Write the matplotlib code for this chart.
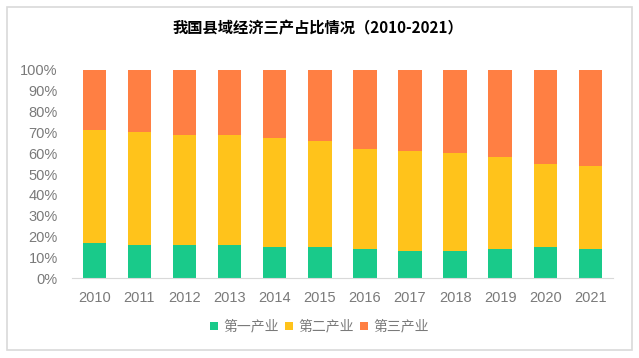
import matplotlib
matplotlib.use("Agg")
import matplotlib.pyplot as plt
from matplotlib.patches import Patch, Rectangle

years = ["2010", "2011", "2012", "2013", "2014", "2015",
         "2016", "2017", "2018", "2019", "2020", "2021"]
primary = [17.0, 16.0, 16.0, 16.0, 15.0, 15.0, 14.1, 13.1, 13.1, 14.1, 15.0, 14.1]
secondary = [54.2, 54.2, 52.8, 52.8, 52.4, 50.9, 48.0, 48.0, 47.1, 44.1, 39.9, 39.8]
tertiary = [100 - p - s for p, s in zip(primary, secondary)]

labels = ["第一产业", "第二产业", "第三产业"]
colors = ["#19CA8A", "#FFC31B", "#FF7F43"]

fig = plt.figure(figsize=(6.39, 3.58), dpi=100)
ax = fig.add_axes([0.1122, 0.2226, 0.8471, 0.5819])

x = range(len(years))
w = 0.52
ax.bar(x, primary, width=w, color=colors[0])
ax.bar(x, secondary, width=w, bottom=primary, color=colors[1])
bottom2 = [p + s for p, s in zip(primary, secondary)]
ax.bar(x, tertiary, width=w, bottom=bottom2, color=colors[2])

ax.set_xlim(-0.5, 11.5)
ax.set_ylim(0, 100)
ax.set_yticks(range(0, 101, 10))
ax.set_yticklabels([f"{v}%" for v in range(0, 101, 10)])
ax.set_xticks(list(x))
ax.set_xticklabels(years)

for side in ["top", "right", "left"]:
    ax.spines[side].set_visible(False)
ax.spines["bottom"].set_color("#D9D9D9")
ax.tick_params(length=0, colors="#7A7A7A", labelsize=10.5)
ax.tick_params(axis="y", pad=10)
ax.tick_params(axis="x", pad=9)
for t in ax.get_xticklabels() + ax.get_yticklabels():
    t.set_fontfamily(["Liberation Sans", "DejaVu Sans"])

fig.text(0.497, 0.922, "我国县域经济三产占比情况（2010-2021）",
         ha="center", va="center", fontsize=11, fontweight="bold",
         family=["Noto Sans CJK SC", "DejaVu Sans"], color="#000000")

handles = [Patch(facecolor=c, edgecolor="none") for c in colors]
fig.legend(handles, labels, loc="center", bbox_to_anchor=(0.5, 0.087),
           ncol=3, frameon=False, handlelength=0.6, handleheight=0.6,
           handletextpad=0.4, columnspacing=0.4, borderaxespad=0,
           prop={"family": ["Noto Sans CJK SC", "DejaVu Sans"], "size": 10},
           labelcolor="#7A7A7A")

# light gray frame around the chart
fig.patches.append(Rectangle((7 / 639, 1 - 350 / 358), (632 - 7) / 639, (350 - 7) / 358,
                             transform=fig.transFigure, fill=False,
                             edgecolor="#D9D9D9", linewidth=1.2))

fig.savefig("out.png", dpi=100)
